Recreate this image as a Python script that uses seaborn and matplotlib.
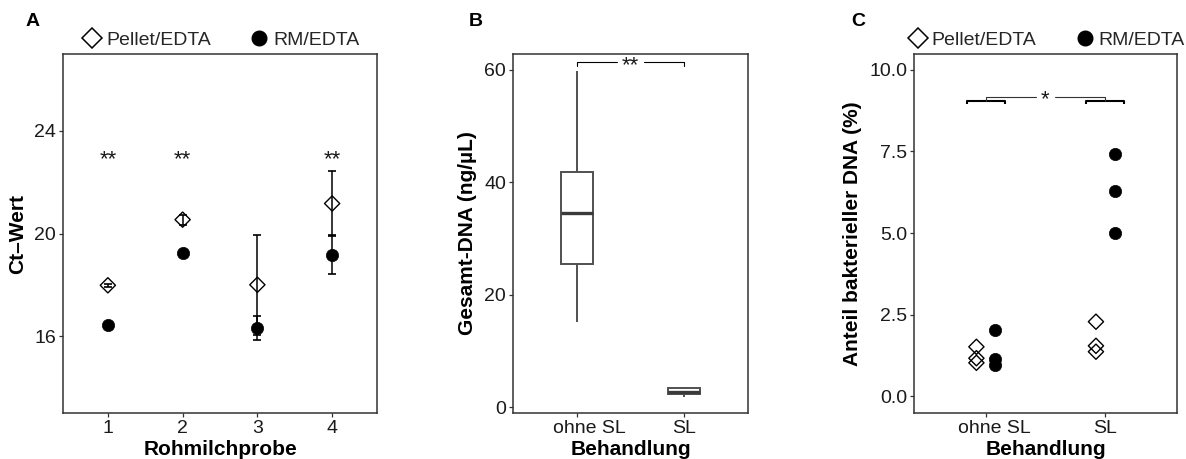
import numpy as np
import pandas as pd
import matplotlib
matplotlib.use("Agg")
import matplotlib.pyplot as plt
import matplotlib.transforms as mtransforms
from matplotlib.lines import Line2D
import seaborn as sns

# ---- Panel A: Ct values per raw milk sample (mean ± SD) ----
samples = [1, 2, 3, 4]
pellet_ct = [17.98, 20.54, 18.00, 21.17]
pellet_sd = [0.05, 0.20, 1.95, 1.25]
rm_ct = [16.43, 19.25, 16.30, 19.18]
rm_sd = [0.05, 0.05, 0.47, 0.75]
sig_a = ["**", "**", "", "**"]
sig_a_y = 23.0

# ---- Panel B: total DNA (ng/µL) ----
treatments = ["ohne SL", "SL"]
dna_ohne_sl = [15.2, 25.5, 34.6, 41.9, 59.8]
dna_sl = [1.9, 2.3, 2.8, 3.4, 3.7]
sig_b = "**"
sig_b_y = 61.3

# ---- Panel C: share of bacterial DNA (%) ----
pellet_ohne_sl = [1.51, 1.16, 1.02]
rm_ohne_sl = [2.02, 1.13, 0.95]
pellet_sl = [2.28, 1.54, 1.36]
rm_sl = [7.42, 6.30, 4.99]
sig_c = "*"

methods = ["Pellet/EDTA", "RM/EDTA"]

sns.set_style("ticks")
plt.rcParams["font.family"] = ["Liberation Sans", "DejaVu Sans"]
plt.rcParams.update({
    "axes.edgecolor": "#333333",
    "axes.linewidth": 1.1,
    "xtick.color": "#333333",
    "ytick.color": "#333333",
    "xtick.labelcolor": "#1a1a1a",
    "ytick.labelcolor": "#1a1a1a",
    "xtick.major.size": 3.0,
    "ytick.major.size": 3.0,
    "xtick.major.width": 0.9,
    "ytick.major.width": 0.9,
    "xtick.labelsize": 14,
    "ytick.labelsize": 14,
    "axes.labelsize": 15,
    "axes.labelweight": "bold",
    "axes.labelcolor": "black",
})

W, H = 1186, 459
fig = plt.figure(figsize=(W / 100, H / 100), dpi=100)


def box(l, r, t=54, b=413):
    return [l / W, 1 - b / H, (r - l) / W, (b - t) / H]


axA = fig.add_axes(box(63, 377))
axB = fig.add_axes(box(513, 748))
axC = fig.add_axes(box(914, 1177))

DIAMOND_S = 60
CIRCLE_S = 78


def star(ax, x, y, s):
    ax.annotate(s, xy=(x, y), xytext=(0, -6.0), textcoords="offset points",
                ha="center", va="baseline", fontsize=16, color="#1a1a1a",
                zorder=5)


def bracket(ax, x0, x1, y, drop, gap, **kw):
    """Significance bracket from x0 to x1 with a gap in the middle for the label."""
    xm = (x0 + x1) / 2
    ax.plot([x0, x0, xm - gap], [y - drop, y, y], **kw)
    ax.plot([xm + gap, x1, x1], [y, y, y - drop], **kw)


def top_legend(ax):
    handles = [
        Line2D([], [], ls="none", marker="D", markersize=10, markerfacecolor="none",
               markeredgecolor="black", markeredgewidth=1.1),
        Line2D([], [], ls="none", marker="o", markersize=10.5, markerfacecolor="black",
               markeredgecolor="black"),
    ]
    ax.legend(handles, methods, loc="lower center", bbox_to_anchor=(0.5, 1.0),
              ncol=2, frameon=False, fontsize=14, handletextpad=0.1,
              columnspacing=1.9, borderaxespad=0.1, borderpad=0.15,
              handlelength=1.2)


# ---------------- Panel A ----------------
axA.errorbar(samples, pellet_ct, yerr=pellet_sd, fmt="none", ecolor="black",
             elinewidth=1.1, capsize=3, capthick=1.2, zorder=2)
axA.errorbar(samples, rm_ct, yerr=rm_sd, fmt="none", ecolor="black",
             elinewidth=1.1, capsize=3, capthick=1.2, zorder=2)
sns.scatterplot(x=samples, y=rm_ct, marker="o", s=CIRCLE_S, facecolor="black",
                edgecolor="black", linewidth=0.5, ax=axA, zorder=3)
sns.scatterplot(x=samples, y=pellet_ct, marker="D", s=DIAMOND_S, facecolor="none",
                edgecolor="black", linewidth=1.0, ax=axA, zorder=4)
for x, s in zip(samples, sig_a):
    if s:
        star(axA, x, sig_a_y, s)
axA.set_xlim(0.4, 4.6)
axA.set_ylim(13.0, 27.0)
axA.set_xticks(samples)
axA.set_yticks([16, 20, 24])
axA.set_xlabel("Rohmilchprobe", labelpad=2)
axA.set_ylabel("Ct\u2013Wert", labelpad=5)
top_legend(axA)

# ---------------- Panel B ----------------
df_b = pd.DataFrame({
    "Behandlung": [treatments[0]] * len(dna_ohne_sl) + [treatments[1]] * len(dna_sl),
    "DNA": dna_ohne_sl + dna_sl,
})
sns.boxplot(data=df_b, x="Behandlung", y="DNA", order=treatments, width=0.3,
            color="white", linecolor="#505050", linewidth=1.4, showcaps=False,
            medianprops=dict(linewidth=2.4, color="#3a3a3a"),
            whis=1.5, ax=axB)
bracket(axB, 0, 1, sig_b_y, 0.6, 0.13, color="black", lw=0.8, zorder=4)
star(axB, 0.5, sig_b_y, sig_b)
axB.set_xlim(-0.6, 1.6)
axB.set_ylim(-1.0, 62.8)
axB.set_yticks([0, 20, 40, 60])
axB.set_xlabel("Behandlung", labelpad=2)
axB.set_ylabel("Gesamt-DNA (ng/\u00b5L)", labelpad=5)

# ---------------- Panel C ----------------
dodge = 0.078
pos = {t: i for i, t in enumerate(treatments)}
df_c = pd.DataFrame({
    "Behandlung": ([treatments[0]] * 3 + [treatments[1]] * 3) * 2,
    "Methode": [methods[0]] * 6 + [methods[1]] * 6,
    "Anteil": pellet_ohne_sl + pellet_sl + rm_ohne_sl + rm_sl,
})
df_c["xpos"] = df_c["Behandlung"].map(pos) + np.where(df_c["Methode"] == methods[0], -dodge, dodge)
rm_df = df_c[df_c["Methode"] == methods[1]]
pe_df = df_c[df_c["Methode"] == methods[0]]
sns.scatterplot(data=rm_df, x="xpos", y="Anteil", marker="o", s=CIRCLE_S,
                facecolor="black", edgecolor="black", linewidth=0.5, ax=axC, zorder=3)
sns.scatterplot(data=pe_df, x="xpos", y="Anteil", marker="D", s=DIAMOND_S,
                facecolor="none", edgecolor="black", linewidth=1.0, ax=axC, zorder=4)

# comparison brackets: one per treatment group, one between the groups
yb, yt = 9.06, 9.18
for c in (0, 1):
    axC.plot([c - 0.16, c - 0.16, c + 0.16, c + 0.16], [yb - 0.09, yb, yb, yb - 0.09],
             color="black", lw=1.5, zorder=4, solid_capstyle="butt")
bracket(axC, 0, 1, yt, yt - yb, 0.08, color="#333333", lw=0.8, zorder=4)
star(axC, 0.5, yt, sig_c)

axC.set_xlim(-0.6, 1.6)
axC.set_ylim(-0.52, 10.49)
axC.set_xticks([0, 1])
axC.set_xticklabels(treatments)
axC.set_yticks([0, 2.5, 5, 7.5, 10])
axC.set_yticklabels(["0.0", "2.5", "5.0", "7.5", "10.0"])
axC.set_xlabel("Behandlung", labelpad=2)
axC.set_ylabel("Anteil bakterieller DNA (%)", labelpad=5)
top_legend(axC)

for ax in (axA, axB, axC):
    for sp in ax.spines.values():
        sp.set_visible(True)
        sp.set_color("#333333")
    ax.tick_params(axis="both", pad=2)

# first category label sits slightly right of its tick
for ax, dx in ((axB, 9), (axC, 6)):
    lab = ax.get_xticklabels()[0]
    lab.set_transform(lab.get_transform() + mtransforms.ScaledTranslation(dx / 72, 0, fig.dpi_scale_trans))

for letter, x in (("A", 33), ("B", 476), ("C", 858)):
    fig.text(x / W, 1 - 22 / H, letter, ha="center", va="center",
             fontsize=14, fontweight="bold", color="black")

fig.savefig("out.png", dpi=100)
